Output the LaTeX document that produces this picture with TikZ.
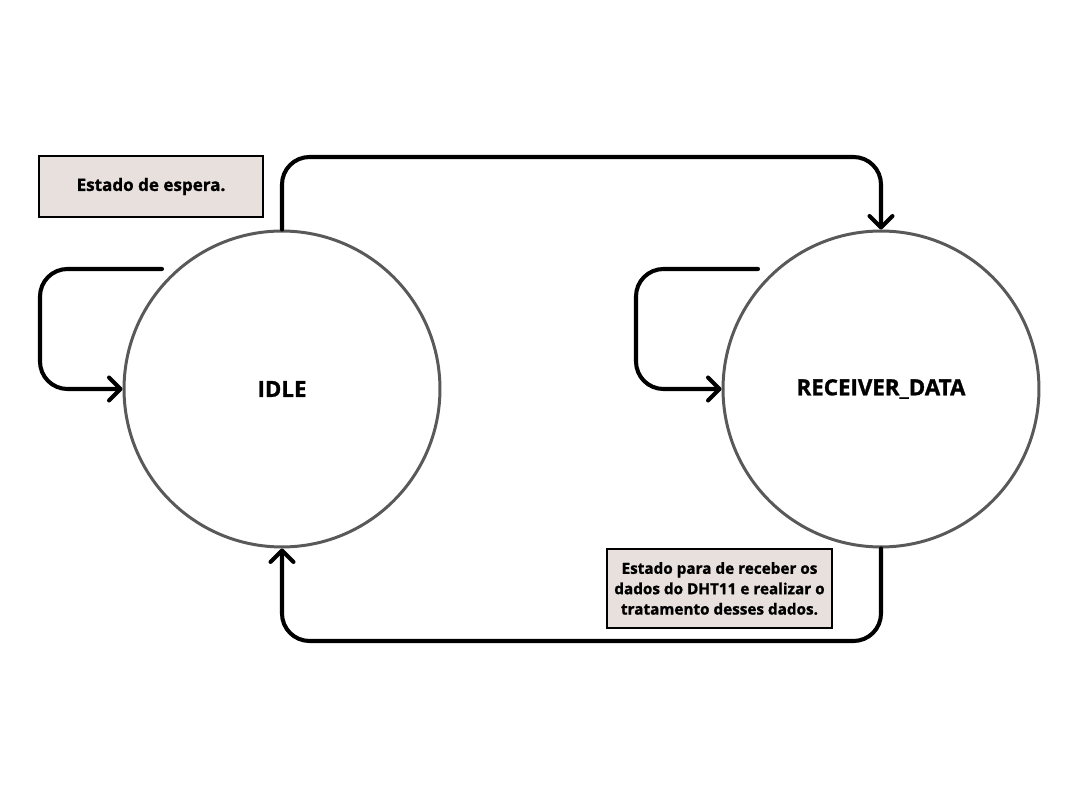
\documentclass[tikz,border=0pt]{standalone}
\usepackage{fontspec}
\setmainfont{Open Sans}[BoldFeatures={FakeBold=1.3}]
\usetikzlibrary{arrows.meta,positioning,calc}
\usepackage{xcolor}
\definecolor{notefill}{HTML}{E8E0DD}
\definecolor{ringgray}{HTML}{595959}

\begin{document}
\begin{tikzpicture}[
    x=0.02cm, y=-0.02cm,
    state/.style={circle, draw=ringgray, line width=1.7pt, minimum size=6.32cm, inner sep=0pt, font=\fontsize{12.7}{15}\selectfont\bfseries},
    note/.style={draw, line width=1.2pt, fill=notefill, align=center, inner sep=0pt, font=\fontsize{8.7}{11.6}\selectfont\bfseries},
    trans/.style={-{Straight Barb[length=2.3mm, width=4.6mm, line cap=round, line join=round]}, line width=2.3pt, line cap=round, rounded corners=0.55cm}
]
\useasboundingbox (0,0) rectangle (1080,800);

\node[state] (idle) at (282, 389) {IDLE};
\node[state] (recv) at (881, 389) {RECEIVER\_DATA};

\node[note, minimum width=4.48cm, minimum height=1.22cm, font=\fontsize{9.7}{12}\selectfont\bfseries] (waitnote) at (151, 186.5) {Estado de espera.};
\node[note, minimum width=4.5cm, minimum height=1.58cm] (recvnote) at (719.5, 588.5) {Estado para de receber os\\dados do DHT11 e realizar o\\tratamento desses dados.};

\coordinate (toprail) at (0, 157);
\coordinate (botrail) at (0, 641);
\coordinate (idleloop) at (162, 269);
\coordinate (recvloop) at (758, 269);

\draw[trans] (idle.north) -- (idle.north |- toprail) -| (recv.north);
\draw[trans] (recv.south) -- (recv.south |- botrail) -| (idle.south);

\draw[trans] (idleloop) -- ++(-122, 0) |- (idle.west);
\draw[trans] (recvloop) -- ++(-122, 0) |- (recv.west);

\end{tikzpicture}
\end{document}
